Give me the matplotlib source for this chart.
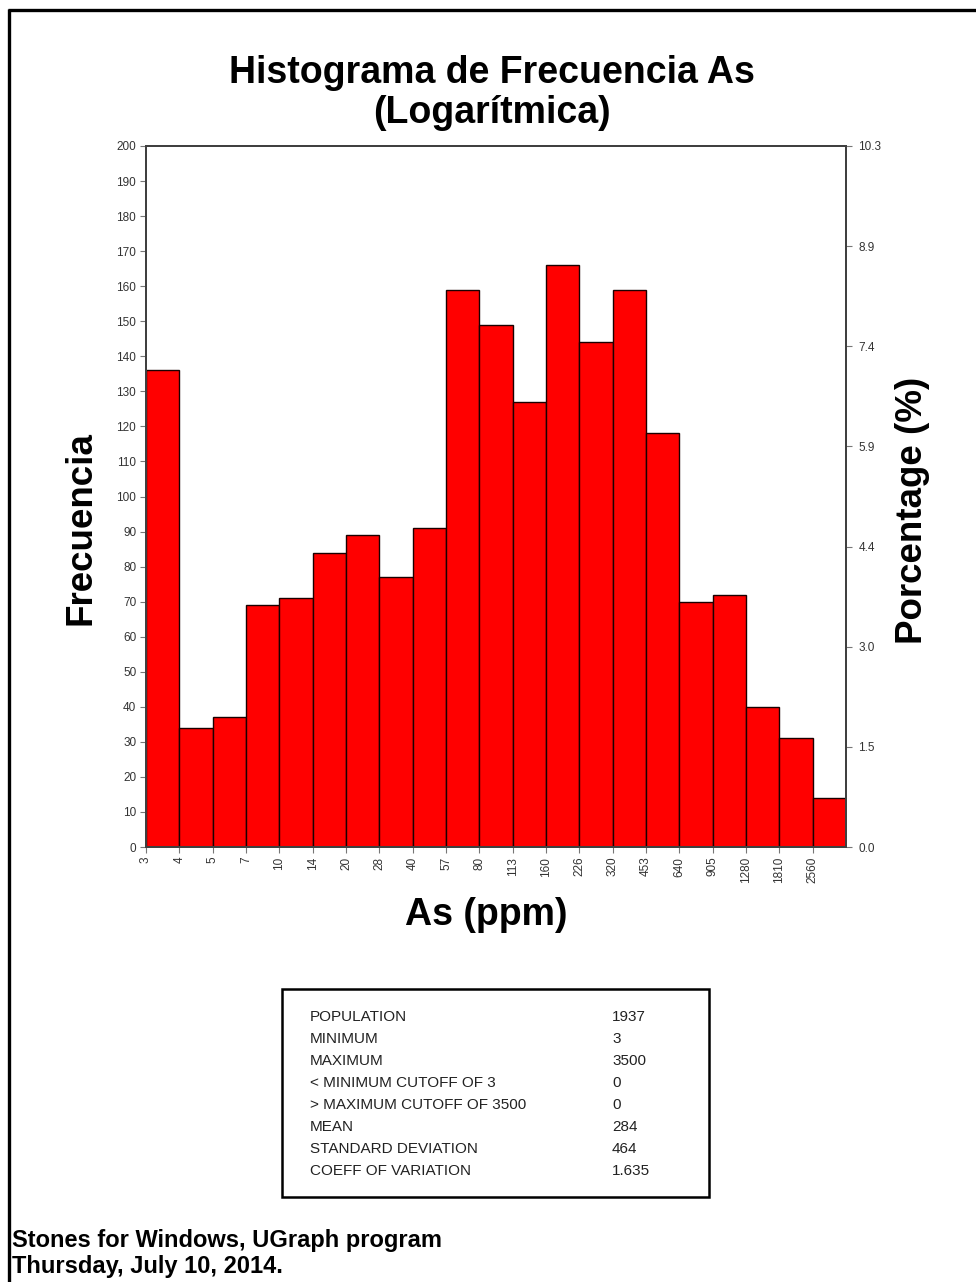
import matplotlib
matplotlib.use("Agg")
import matplotlib.pyplot as plt
from matplotlib.lines import Line2D
from matplotlib.patches import Rectangle

plt.rcParams['font.family'] = ['Liberation Sans', 'DejaVu Sans']

# bin edges (left edge of each bar) and counts
bin_labels = ["3", "4", "5", "7", "10", "14", "20", "28", "40", "57", "80",
              "113", "160", "226", "320", "453", "640", "905", "1280", "1810", "2560"]
counts = [136, 34, 37, 69, 71, 84, 89, 77, 91, 159, 149,
          127, 166, 144, 159, 118, 70, 72, 40, 31, 14]

pct_labels = ["0.0", "1.5", "3.0", "4.4", "5.9", "7.4", "8.9", "10.3"]

stat_names = ["POPULATION", "MINIMUM", "MAXIMUM", "< MINIMUM CUTOFF OF 3",
              "> MAXIMUM CUTOFF OF 3500", "MEAN", "STANDARD DEVIATION",
              "COEFF OF VARIATION"]
stat_values = ["1937", "3", "3500", "0", "0", "284", "464", "1.635"]

W, H = 976, 1282
fig = plt.figure(figsize=(W / 100, H / 100), dpi=100)


def fx(px):
    return px / W


def fy(py):
    return 1 - py / H


ax = fig.add_axes([fx(146), fy(847), fx(846) - fx(146), fy(146) - fy(847)])
pos = list(range(len(counts)))
ax.bar(pos, counts, width=1.0, align="edge", color="#FF0000",
       edgecolor="#1a0000", linewidth=1.0)
ax.set_xlim(0, len(counts))
ax.set_ylim(0, 200)
ax.set_xticks(pos)
ax.set_xticklabels(bin_labels, rotation=90)
ax.set_yticks(range(0, 201, 10))

spine_col = "#404040"
tick_col = "#333333"
for sp in ax.spines.values():
    sp.set_color(spine_col)
    sp.set_linewidth(1.4)
ax.tick_params(axis="both", direction="out", length=4, width=0.8,
               color="#777777", labelsize=8.5, labelcolor=tick_col, pad=3)

ax2 = ax.twinx()
ax2.set_ylim(0, 200)
ax2.set_yticks([200 * k / (len(pct_labels) - 1) for k in range(len(pct_labels))])
ax2.set_yticklabels(pct_labels)
ax2.tick_params(axis="y", direction="out", length=4, width=0.8,
                color="#777777", labelsize=8.5, labelcolor=tick_col, pad=5)
for sp in ax2.spines.values():
    sp.set_color(spine_col)
    sp.set_linewidth(1.4)

# titles and axis labels
fig.text(fx(492), fy(93), "Histograma de Frecuencia As\n(Logarítmica)",
         ha="center", va="center", fontsize=27, fontweight="bold",
         linespacing=1.12)
fig.text(fx(81), fy(528), "Frecuencia", ha="center", va="center",
         rotation=90, fontsize=26.5, fontweight="bold")
fig.text(fx(912), fy(510), "Porcentage (%)", ha="center", va="center",
         rotation=90, fontsize=26.5, fontweight="bold")
fig.text(fx(486), fy(915), "As (ppm)", ha="center", va="center",
         fontsize=27, fontweight="bold")

# statistics box
fig.add_artist(Rectangle((fx(282), fy(1197)), fx(709) - fx(282),
                         fy(989) - fy(1197), transform=fig.transFigure,
                         facecolor="white", edgecolor="black", linewidth=1.8))
for i, (name, val) in enumerate(zip(stat_names, stat_values)):
    y = fy(1017 + 22 * i)
    fig.text(fx(310), y, name, ha="left", va="center", fontsize=11,
             color="#222222")
    fig.text(fx(612), y, val, ha="left", va="center", fontsize=11,
             color="#222222")

# footer
fig.text(fx(12), fy(1240), "Stones for Windows, UGraph program",
         ha="left", va="center", fontsize=17, fontweight="bold")
fig.text(fx(12), fy(1266), "Thursday, July 10, 2014.",
         ha="left", va="center", fontsize=17, fontweight="bold")

# page border (top and left)
fig.add_artist(Line2D([fx(8), 1], [fy(10), fy(10)], transform=fig.transFigure,
                      color="black", linewidth=2.4, solid_capstyle="butt"))
fig.add_artist(Line2D([fx(9), fx(9)], [fy(9), 0], transform=fig.transFigure,
                      color="black", linewidth=2.4, solid_capstyle="butt"))

fig.savefig("out.png", dpi=100)
